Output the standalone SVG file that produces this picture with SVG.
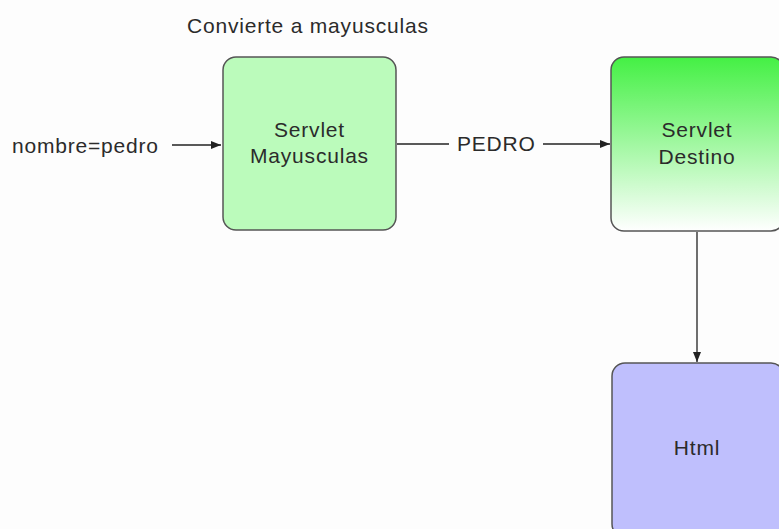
<svg xmlns="http://www.w3.org/2000/svg" width="779" height="529" viewBox="0 0 779 529">
<style>
text{font-family:"Liberation Sans",Arial,sans-serif;font-size:21px;fill:#2b2b2b;letter-spacing:0.8px}
.box{stroke:#555;stroke-width:1.5}
.c{text-anchor:middle}
.ln{stroke:#222;stroke-width:1.3;fill:none}
</style>
<defs>
<linearGradient id="g2" x1="0" y1="0" x2="0" y2="1">
<stop offset="0" stop-color="#44f044"/>
<stop offset="1" stop-color="#ffffff"/>
</linearGradient>
<marker id="ah" viewBox="0 0 10 8" refX="10" refY="4" markerWidth="10" markerHeight="8" markerUnits="userSpaceOnUse" orient="auto">
<path d="M0,0 L10,4 L0,8 Z" fill="#222"/>
</marker>
</defs>
<rect width="779" height="529" fill="#fdfdfd"/>
<g id="connectors">
<path class="ln" d="M172,145 L221,145" marker-end="url(#ah)"/>
<path class="ln" d="M397,144 L449,144"/>
<path class="ln" d="M543,144 L610,144" marker-end="url(#ah)"/>
<path class="ln" d="M697,232 L697,362" marker-end="url(#ah)"/>
<text x="12" y="153">nombre=pedro</text>
<text x="457" y="151">PEDRO</text>
</g>
<g id="label-convierte">
<text x="187" y="33">Convierte a mayusculas</text>
</g>
<g id="servlet-mayusculas">
<rect class="box" x="223" y="57" width="173" height="173" rx="13" fill="#bbfbbb"/>
<text class="c" x="309.5" y="137">Servlet</text>
<text class="c" x="309.5" y="163">Mayusculas</text>
</g>
<g id="servlet-destino">
<rect class="box" x="611" y="57" width="173" height="174" rx="13" fill="url(#g2)"/>
<text class="c" x="697" y="137">Servlet</text>
<text class="c" x="697" y="164">Destino</text>
</g>
<g id="html">
<rect class="box" x="612" y="363" width="172" height="174" rx="13" fill="#bfbffd"/>
<text class="c" x="697" y="455">Html</text>
</g>
</svg>
